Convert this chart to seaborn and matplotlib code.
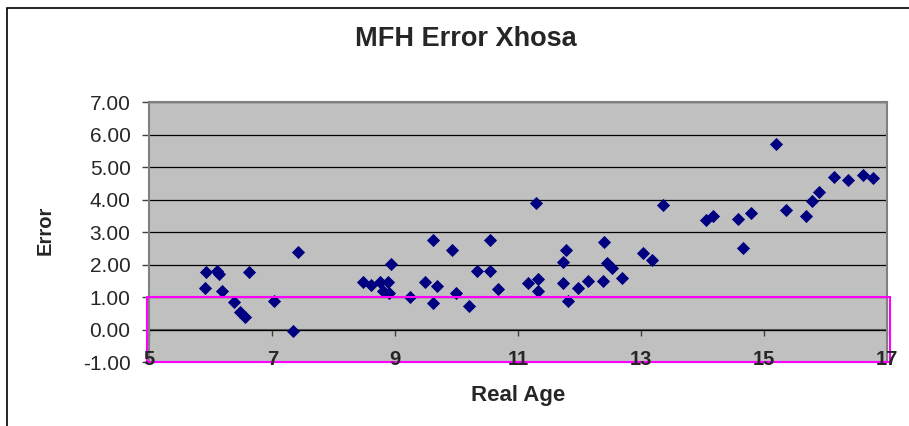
import pandas as pd
import seaborn as sns
import matplotlib.pyplot as plt
from matplotlib.patches import Rectangle

# values
real_age = [5.93, 6.10, 6.14, 6.62, 5.91, 6.19, 6.37, 6.48, 6.56, 7.02, 7.33, 7.42,
            8.47, 8.60, 8.75, 8.88, 8.80, 8.90, 8.93, 9.24, 9.49, 9.62, 9.68, 9.62,
            9.93, 9.99, 10.20, 10.33, 10.54, 10.54, 10.67,
            11.15, 11.29, 11.32, 11.32, 11.72, 11.72, 11.78, 11.81, 11.97, 12.14,
            12.37, 12.40, 12.45, 12.52, 12.68, 13.02, 13.17, 13.35,
            14.05, 14.17, 14.57, 14.66, 14.78, 15.19, 15.36, 15.67, 15.77, 15.89,
            16.14, 16.36, 16.60, 16.76]
error = [1.76, 1.80, 1.72, 1.76, 1.27, 1.18, 0.84, 0.56, 0.40, 0.89, -0.05, 2.38,
         1.46, 1.39, 1.46, 1.46, 1.20, 1.12, 2.03, 1.02, 1.46, 2.75, 1.34, 0.82,
         2.46, 1.12, 0.72, 1.80, 1.80, 2.75, 1.26,
         1.45, 3.90, 1.55, 1.20, 1.45, 2.07, 2.46, 0.87, 1.29, 1.50,
         1.50, 2.71, 2.05, 1.90, 1.59, 2.37, 2.14, 3.82,
         3.38, 3.49, 3.40, 2.52, 3.59, 5.72, 3.68, 3.49, 3.96, 4.22,
         4.70, 4.60, 4.75, 4.66]
x_ticks = [5, 7, 9, 11, 13, 15, 17]
y_ticks = [-1, 0, 1, 2, 3, 4, 5, 6, 7]

# highlighted band (magenta box)
box_x = [4.96, 17.05]
box_y = [-1.0, 1.0]

df = pd.DataFrame({'Real Age': real_age, 'Error': error})

sns.set_theme(style='white')
plt.rcParams['font.family'] = ['Liberation Sans', 'DejaVu Sans']

W, H = 909, 426
fig = plt.figure(figsize=(W / 100, H / 100), dpi=100)
ax = fig.add_axes([149.3 / W, 1 - 362.3 / H, (887.3 - 149.3) / W, (362.3 - 102) / H])

sns.scatterplot(
    x='Real Age',
    y='Error',
    data=df,
    marker='D',
    s=45,
    color='#000080',
    linewidth=0,
    ax=ax,
    zorder=3
)

ax.set_facecolor('#C0C0C0')
ax.set_xlim(5, 17)
ax.set_ylim(-1, 7)
ax.set_xticks(x_ticks)
ax.set_yticks(y_ticks)
ax.set_yticklabels([f'{v:.2f}' for v in y_ticks], fontsize=15)
ax.set_xticklabels([str(v) for v in x_ticks], fontsize=14.5, fontweight='bold')
ax.tick_params(axis='x', length=0, pad=-9)
ax.tick_params(axis='y', left=True, length=5, width=1, color='#404040', pad=8.5)
ax.yaxis.grid(True, color='black', linewidth=0.9)
ax.xaxis.grid(False)
ax.set_axisbelow(True)
ax.xaxis.set_zorder(6)  # x labels sit on top of the magenta box
for sp in ax.spines.values():
    sp.set_color('#808080')
    sp.set_linewidth(1.5)
ax.set_xlabel('')
ax.set_ylabel('')

# x axis crossing at zero
sec = ax.secondary_xaxis(1 / 8)
sec.set_xticks(x_ticks)
sec.xaxis.set_ticks_position('bottom')
sec.tick_params(axis='x', length=4, width=1, color='#404040',
                labelbottom=False, labeltop=False)
for name, sp in sec.spines.items():
    sp.set_visible(name == 'bottom')
sec.spines['bottom'].set_color('#606060')
sec.spines['bottom'].set_linewidth(1.5)

ax.add_patch(Rectangle((box_x[0], box_y[0]), box_x[1] - box_x[0], box_y[1] - box_y[0],
                       fill=False, edgecolor='#FF00FF', linewidth=1.5,
                       clip_on=False, zorder=5))

fig.text(466 / W, 1 - 39 / H, 'MFH Error Xhosa', fontsize=19.5, fontweight='bold',
         ha='center', va='center')
fig.text(518 / W, 1 - 396 / H, 'Real Age', fontsize=16, fontweight='bold',
         ha='center', va='center')
fig.text(45 / W, 1 - 230 / H, 'Error', fontsize=14.5, fontweight='bold',
         ha='center', va='center', rotation=90)

# chart area border (only top and left edges fall inside the image)
fig.patches.append(Rectangle((7 / W, -0.2), 1.5, 1.2 - 8 / H, transform=fig.transFigure,
                             fill=False, edgecolor='black', linewidth=1.2))

fig.savefig('out.png', dpi=100)
